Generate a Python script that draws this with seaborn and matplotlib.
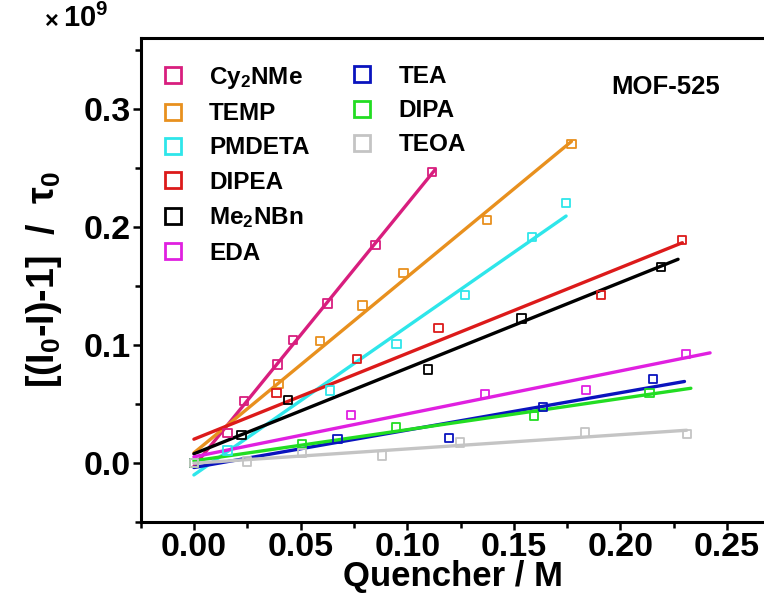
import numpy as np
import pandas as pd
import matplotlib
matplotlib.use("Agg")
import matplotlib.pyplot as plt
from matplotlib.lines import Line2D
import seaborn as sns

# ---------------- data ----------------
names = ["Cy$_2$NMe", "TEMP", "PMDETA", "DIPEA", "Me$_2$NBn", "EDA", "TEA", "DIPA", "TEOA"]
colors = ["#D81E7E", "#E8901E", "#2EE6EA", "#DC1A1A", "#000000", "#E020E0", "#0A14BE", "#22DD22", "#C4C4C4"]

x_cy2nme = [0.0, 0.0158, 0.0235, 0.0392, 0.0465, 0.0626, 0.0852, 0.1117]
y_cy2nme = [0.0, 0.0252, 0.0527, 0.0833, 0.1040, 0.1350, 0.1846, 0.2466]
x_temp = [0.0, 0.0397, 0.0591, 0.0790, 0.0982, 0.1375, 0.1770]
y_temp = [0.0, 0.0669, 0.1030, 0.1334, 0.1606, 0.2056, 0.2700]
x_pmdeta = [0.0, 0.0158, 0.0637, 0.0950, 0.1270, 0.1586, 0.1745]
y_pmdeta = [0.0, 0.0105, 0.0614, 0.1009, 0.1420, 0.1914, 0.2200]
x_dipea = [0.0, 0.0387, 0.0766, 0.1146, 0.1909, 0.2289]
y_dipea = [0.0, 0.0592, 0.0881, 0.1144, 0.1421, 0.1889]
x_me2nbn = [0.0, 0.0223, 0.0441, 0.1097, 0.1536, 0.2191]
y_me2nbn = [0.0, 0.0238, 0.0535, 0.0790, 0.1223, 0.1660]
x_eda = [0.0, 0.0738, 0.1364, 0.1838, 0.2307]
y_eda = [0.0, 0.0404, 0.0584, 0.0620, 0.0923]
x_tea = [0.0, 0.0673, 0.1196, 0.1637, 0.2152]
y_tea = [0.0, 0.0204, 0.0210, 0.0473, 0.0711]
x_dipa = [0.0, 0.0506, 0.0949, 0.1596, 0.2136]
y_dipa = [0.0, 0.0161, 0.0303, 0.0400, 0.0592]
x_teoa = [0.0, 0.0248, 0.0506, 0.0882, 0.1247, 0.1835, 0.2311]
y_teoa = [0.0, 0.0011, 0.0082, 0.0064, 0.0172, 0.0257, 0.0246]

xs = [x_cy2nme, x_temp, x_pmdeta, x_dipea, x_me2nbn, x_eda, x_tea, x_dipa, x_teoa]
ys = [y_cy2nme, y_temp, y_pmdeta, y_dipea, y_me2nbn, y_eda, y_tea, y_dipa, y_teoa]
fit_end = [0.113, 0.177, 0.1745, 0.229, 0.227, 0.242, 0.230, 0.233, 0.231]

x_ticks = [0.00, 0.05, 0.10, 0.15, 0.20, 0.25]
y_ticks = [0.0, 0.1, 0.2, 0.3]

# ---------------- style ----------------
sns.set_theme(style="ticks")
plt.rcParams["font.family"] = ["Liberation Sans", "DejaVu Sans"]
plt.rcParams["font.weight"] = "bold"
plt.rcParams["text.color"] = "black"
plt.rcParams["axes.labelcolor"] = "black"
plt.rcParams["xtick.color"] = "black"
plt.rcParams["ytick.color"] = "black"
plt.rcParams["mathtext.fontset"] = "custom"
plt.rcParams["mathtext.rm"] = "Liberation Sans:bold"
plt.rcParams["mathtext.it"] = "Liberation Sans:bold"
plt.rcParams["mathtext.bf"] = "Liberation Sans:bold"

fig = plt.figure(figsize=(7.64, 6.02), dpi=100)
ax = fig.add_axes([0.184, 0.133, 0.818, 0.804])

for i in range(len(names)):
    xa = np.array(xs[i]); ya = np.array(ys[i])
    k, b = np.polyfit(xa, ya, 1)
    xf = np.array([0.0, fit_end[i]])
    sns.lineplot(x=xf, y=k * xf + b, color=colors[i], lw=2.4, ax=ax, sort=False, zorder=2)
    sns.scatterplot(x=xa, y=ya, marker="s", s=36, facecolor="none",
                    edgecolor=colors[i], linewidth=1.3, ax=ax, zorder=3)

ax.set_xlim(-0.025, 0.268)
ax.set_ylim(-0.05, 0.36)
ax.set_xticks(x_ticks)
ax.set_xticklabels([f"{v:.2f}" for v in x_ticks])
ax.set_yticks(y_ticks)
ax.set_yticklabels([f"{v:.1f}" for v in y_ticks])
ax.set_xticks(np.arange(-0.025, 0.27, 0.025), minor=True)
ax.set_yticks(np.arange(-0.05, 0.36, 0.05), minor=True)
ax.tick_params(axis="both", which="major", direction="out", length=6, width=1.8,
               labelsize=24.5, color="black", labelcolor="black", pad=1)
ax.tick_params(axis="both", which="minor", direction="out", length=4, width=1.8, color="black")
for lab in ax.get_xticklabels() + ax.get_yticklabels():
    lab.set_fontweight("bold")

for side in ["left", "bottom", "top"]:
    ax.spines[side].set_linewidth(2.2)
    ax.spines[side].set_color("black")
ax.spines["right"].set_visible(False)

ax.set_xlabel("Quencher / M", fontsize=25, fontweight="bold", labelpad=-2, color="black")
ax.set_ylabel(r"[(I$_0$-I)-1]  /  $\tau_0$", fontsize=27, fontweight="bold", labelpad=14,
              color="black")

# legends
def handle(c):
    return Line2D([], [], ls="none", marker="s", markersize=11, markerfacecolor="none",
                  markeredgecolor=c, markeredgewidth=2.0)

h1 = [handle(c) for c in colors[:6]]
leg1 = ax.legend(h1, names[:6], loc="upper left", bbox_to_anchor=(-0.011, 0.975), frameon=False,
                 handletextpad=0.5, labelspacing=0.47, borderaxespad=0.2,
                 prop={"weight": "bold", "size": 17.5})
ax.add_artist(leg1)
h2 = [handle(c) for c in colors[6:]]
ax.legend(h2, names[6:], loc="upper left", bbox_to_anchor=(0.292, 0.975), frameon=False,
          handletextpad=0.5, labelspacing=0.47, borderaxespad=0.2,
          prop={"weight": "bold", "size": 17.5})

ax.text(0.84, 0.899, "MOF-525", transform=ax.transAxes, ha="center", va="center",
        fontsize=18.5, fontweight="bold")

fig.text(0.058, 0.955, r"$\times$", fontsize=17, ha="left", va="baseline", fontweight="normal",
         family="DejaVu Sans")
fig.text(0.083, 0.955, r"$\mathbf{10^9}$", fontsize=21, ha="left", va="baseline")

fig.savefig("out.png", dpi=100)
